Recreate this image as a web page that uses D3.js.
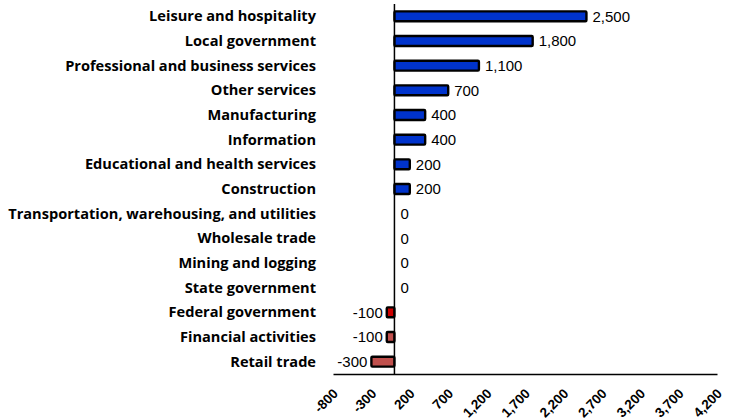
<!DOCTYPE html>
<html>
<head>
<meta charset="utf-8">
<script src="https://cdn.jsdelivr.net/npm/d3@7"></script>
<style>
  body { margin: 0; background: #fff; }
  svg { display: block; }
</style>
</head>
<body>
<div id="chart"></div>
<script>
const categories = ["Leisure and hospitality", "Local government", "Professional and business services",
  "Other services", "Manufacturing", "Information", "Educational and health services", "Construction",
  "Transportation, warehousing, and utilities", "Wholesale trade", "Mining and logging", "State government",
  "Federal government", "Financial activities", "Retail trade"];
const values = [2500, 1800, 1100, 700, 400, 400, 200, 200, 0, 0, 0, 0, -100, -100, -300];
const barColors = ["#0033cc", "#0033cc", "#0033cc", "#0033cc", "#0033cc", "#0033cc", "#0033cc", "#0033cc",
  "#0033cc", "#0033cc", "#0033cc", "#0033cc", "#cc0000", "#c0504d", "#c0504d"];
const xTicks = [-800, -300, 200, 700, 1200, 1700, 2200, 2700, 3200, 3700, 4200];

const width = 730, height = 419;
const plot = { left: 333, right: 717, top: 4, bottom: 374 };

// plain hyphen for negatives, like the original
const fmt = d => d3.format(",")(d).replace("\u2212", "-");

const svg = d3.select("#chart").append("svg")
  .attr("width", width)
  .attr("height", height);

const x = d3.scaleLinear().domain([-800, 4200]).range([plot.left, plot.right]);
const y = d3.scaleBand().domain(categories).range([plot.top, plot.bottom]).paddingInner(0.6).paddingOuter(0.3);

// bars
svg.selectAll(".bar")
  .data(categories)
  .enter().append("rect")
  .attr("class", "bar")
  .attr("x", (d, i) => x(Math.min(0, values[i])))
  .attr("y", d => y(d))
  .attr("width", (d, i) => Math.abs(x(values[i]) - x(0)))
  .attr("height", y.bandwidth())
  .attr("fill", (d, i) => barColors[i])
  .attr("stroke", "#000")
  .attr("stroke-width", 2.4)
  .attr("rx", 1);

// zero line
svg.append("line")
  .attr("x1", x(0)).attr("x2", x(0))
  .attr("y1", plot.top).attr("y2", plot.bottom)
  .attr("stroke", "#000").attr("stroke-width", 1.5);

// x axis
const xAxis = svg.append("g")
  .attr("transform", `translate(0, ${plot.bottom})`)
  .call(d3.axisBottom(x).tickValues(xTicks).tickSize(0).tickFormat(fmt));
xAxis.select(".domain").attr("stroke", "#000").attr("stroke-width", 1.5);
xAxis.selectAll("text")
  .attr("font-family", "Liberation Sans, Arial, sans-serif")
  .attr("font-weight", "bold")
  .attr("font-size", 13.5)
  .attr("fill", "#000")
  .attr("text-anchor", "end")
  .attr("x", 0)
  .attr("y", 0)
  .attr("dy", "0.35em")
  .attr("transform", "translate(2, 17) rotate(-45)");

// category labels
svg.selectAll(".cat")
  .data(categories)
  .enter().append("text")
  .attr("class", "cat")
  .attr("x", 316)
  .attr("y", d => y(d) + y.bandwidth() / 2)
  .attr("dy", "0.35em")
  .attr("text-anchor", "end")
  .attr("font-family", "'Open Sans', sans-serif")
  .attr("font-weight", "bold")
  .attr("font-size", 14.6)
  .attr("fill", "#000")
  .text(d => d);

// value labels
svg.selectAll(".val")
  .data(categories)
  .enter().append("text")
  .attr("class", "val")
  .attr("x", (d, i) => values[i] < 0 ? x(values[i]) - 4 : x(values[i]) + 6)
  .attr("y", d => y(d) + y.bandwidth() / 2)
  .attr("dy", "0.35em")
  .attr("text-anchor", (d, i) => values[i] < 0 ? "end" : "start")
  .attr("font-family", "Liberation Sans, Arial, sans-serif")
  .attr("font-size", 15)
  .attr("fill", "#000")
  .text((d, i) => fmt(values[i]));
</script>
</body>
</html>
